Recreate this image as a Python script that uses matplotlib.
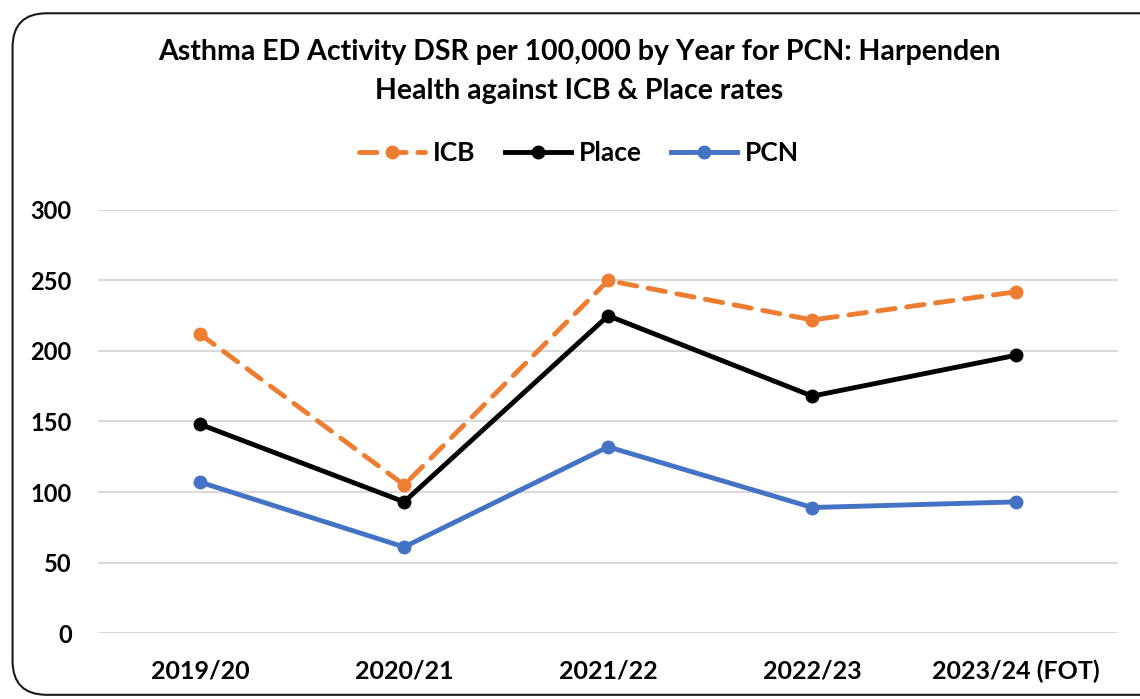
import matplotlib.pyplot as plt
from matplotlib.patches import FancyBboxPatch

years = ["2019/20", "2020/21", "2021/22", "2022/23", "2023/24 (FOT)"]
icb = [212, 105, 250, 222, 242]
place = [148, 93, 225, 168, 197]
pcn = [107, 61, 132, 89, 93]
yticks = [0, 50, 100, 150, 200, 250, 300]

plt.rcParams['font.family'] = ['Lato', 'DejaVu Sans']
plt.rcParams['font.weight'] = 'bold'


def main():
    fig = plt.figure(figsize=(11.4, 6.99), dpi=100)

    # rounded chart border
    box = FancyBboxPatch((0.011, 0.006), 1.2, 0.975, transform=fig.transFigure,
                         boxstyle="round,pad=0,rounding_size=0.03",
                         facecolor='none', edgecolor='#1a1a1a', linewidth=1.5,
                         mutation_aspect=1140 / 699, zorder=-1)
    fig.patches.append(box)

    ax = fig.add_axes([0.086, 0.0944, 0.895, 0.6052])
    ax.set_facecolor('none')
    x = range(len(years))

    ax.plot(x, icb, color='#ED7D31', linewidth=3.5, linestyle=(0, (3.6, 2.4)),
            dash_capstyle='round', marker='o', markersize=9, label='ICB')
    ax.plot(x, place, color='black', linewidth=3.5, marker='o', markersize=9,
            label='Place')
    ax.plot(x, pcn, color='#4472C4', linewidth=3.5, marker='o', markersize=9,
            label='PCN')

    ax.set_xlim(-0.5, len(years) - 0.5)
    ax.set_ylim(0, 300)
    ax.set_yticks(yticks)
    ax.set_xticks(list(x))
    ax.set_xticklabels(years)
    ax.yaxis.grid(True, color='#D9D9D9', linewidth=1.5)
    ax.set_axisbelow(True)
    for s in ax.spines.values():
        s.set_visible(False)
    ax.tick_params(length=0)
    ax.tick_params(axis='y', pad=19, labelsize=17)
    ax.tick_params(axis='x', pad=19, labelsize=18)

    fig.text(0.508, 0.898, "Asthma ED Activity DSR per 100,000 by Year for PCN: Harpenden\nHealth against ICB & Place rates",
             ha='center', va='center', fontsize=20.5, fontweight='bold', linespacing=1.62)

    fig.legend(loc='center', bbox_to_anchor=(0.508, 0.781), ncol=3, frameon=False,
               fontsize=19, handlelength=2.5, columnspacing=1.1, handletextpad=0.3)

    fig.savefig('out.png', dpi=100)


if __name__ == "__main__":
    main()
